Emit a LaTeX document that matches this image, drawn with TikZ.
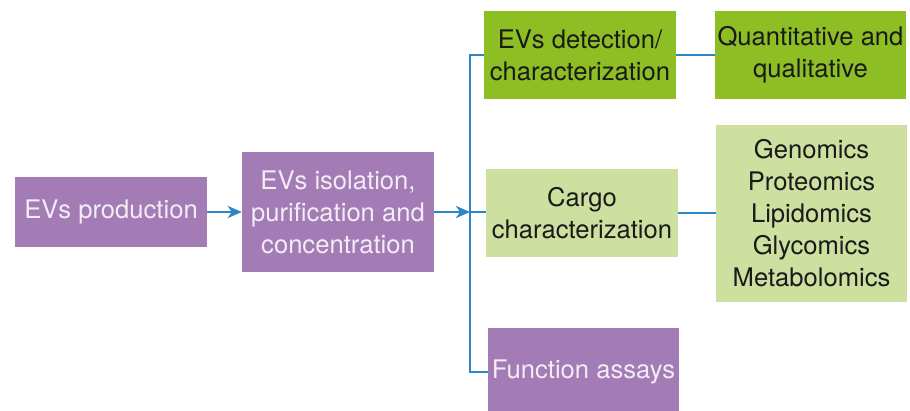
\documentclass[tikz,border=0pt]{standalone}
\usepackage{fontspec}
\setmainfont{TeX Gyre Heros}
\usetikzlibrary{arrows.meta}
\definecolor{purp}{HTML}{A37BB5}
\definecolor{dgreen}{HTML}{8DBE24}
\definecolor{lgreen}{HTML}{CDE0A0}
\definecolor{lineblue}{HTML}{2B86C8}
\definecolor{ptext}{HTML}{F3ECF5}
\definecolor{gtext}{HTML}{1A1A1A}
\tikzset{
  boxbase/.style={rectangle, inner sep=0pt, align=center, font=\fontsize{25.6}{32}\selectfont},
  purpbox/.style={boxbase, fill=purp, text=ptext},
  dgbox/.style={boxbase, fill=dgreen, text=gtext},
  lgbox/.style={boxbase, fill=lgreen, text=gtext},
  conn/.style={draw=lineblue, line width=2.9pt},
  arr/.style={conn, -{Stealth[length=14pt,width=12pt,inset=4pt]}}
}
\begin{document}
\begin{tikzpicture}[x=1pt,y=-1pt]
\useasboundingbox (0,0) rectangle (910,410);
\node[purpbox, minimum width=192pt, minimum height=70pt] (prod) at (111,212) {EVs production};
\node[purpbox, minimum width=192pt, minimum height=120pt] (iso) at (338,212) {EVs isolation,\\purification and\\concentration};
\node[dgbox, minimum width=192pt, minimum height=88pt] (det) at (580,55) {EVs detection/\\characterization};
\node[dgbox, minimum width=191pt, minimum height=88pt] (quant) at (810.5,55) {Quantitative and\\qualitative};
\node[lgbox, minimum width=192pt, minimum height=88pt] (cargo) at (582,213) {Cargo\\characterization};
\node[lgbox, minimum width=191pt, minimum height=177pt] (omics) at (811.5,213.5) {Genomics\\Proteomics\\Lipidomics\\Glycomics\\Metabolomics};
\node[purpbox, minimum width=191pt, minimum height=88pt] (func) at (583.5,372) {Function assays};
\coordinate (br) at (470,212);
\draw[arr] (prod.east) -- (iso.west);
\draw[arr] (iso.east) -- (br);
\draw[conn] (det.west) -| (br) |- (func.west);
\draw[conn] (br) -- (cargo.west |- br);
\draw[conn] (det.east) -- (quant.west);
\draw[conn] (cargo.east) -- (omics.west |- cargo.east);
\end{tikzpicture}
\end{document}
